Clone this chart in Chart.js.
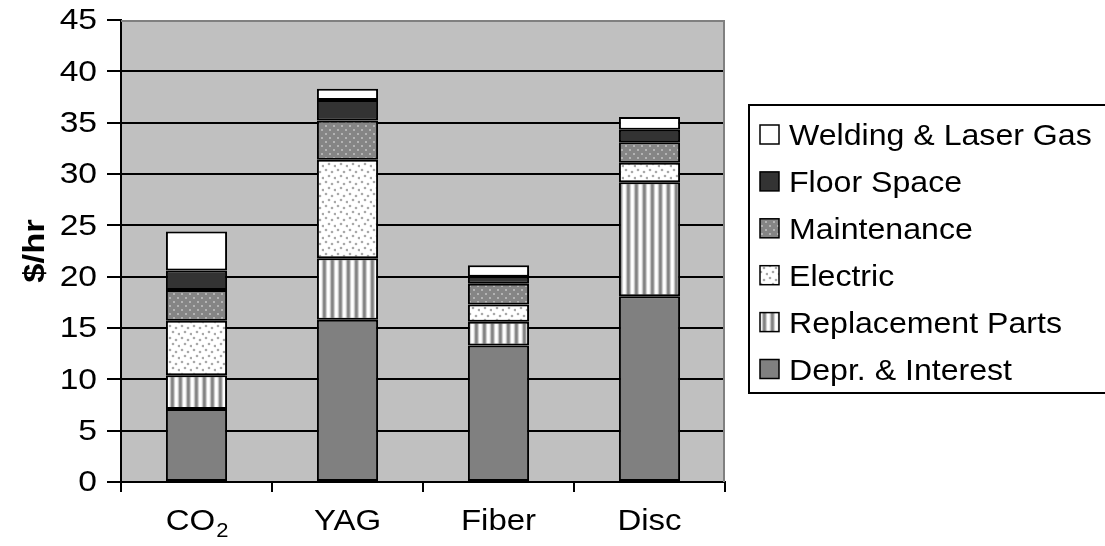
<!DOCTYPE html>
<html>
<head>
<meta charset="utf-8">
<style>
  html, body { margin: 0; padding: 0; background: #fff; }
  #wrap { width: 1105px; height: 546px; position: relative; }
</style>
<script src="https://cdn.jsdelivr.net/npm/chart.js@4.4.0/dist/chart.umd.min.js"></script>
</head>
<body>
<div id="wrap"><canvas id="c" width="1105" height="546"></canvas></div>
<script>
// Laser types on the x axis
const categories = ['CO2', 'YAG', 'Fiber', 'Disc'];

// Hourly operating cost components ($/hr), stacked bottom to top
const deprInterest     = [7.1, 15.8, 13.3, 18.1];
const replacementParts = [3.3, 6.0, 2.3, 11.1];
const electric         = [5.3, 9.6, 1.7, 1.9];
const maintenance      = [3.0, 3.8, 2.0, 2.0];
const floorSpace       = [1.9, 2.0, 0.7, 1.2];
const weldingGas       = [3.8, 1.1, 1.1, 1.25];

const seriesNames = ['Depr. & Interest', 'Replacement Parts', 'Electric',
                     'Maintenance', 'Floor Space', 'Welding & Laser Gas'];

// Y axis range
const yMin = 0, yMax = 45, yStep = 5;
const yTitle = '$/hr';

const FONT = '"Liberation Sans", Arial, Helvetica, sans-serif';
const FS = 30;

// text drawn slightly widened, as in the printed figure
function wideText(ctx, text, x, y, opts) {
  ctx.save();
  ctx.translate(x, y);
  if (opts.rotate) ctx.rotate(opts.rotate);
  ctx.scale(opts.sx || 1, 1);
  ctx.font = opts.font;
  ctx.textAlign = opts.align || 'left';
  ctx.textBaseline = opts.baseline || 'alphabetic';
  ctx.fillStyle = '#000';
  ctx.fillText(text, 0, 0);
  ctx.restore();
}

// ---- fill patterns ----
function makeTile(w, h, paint) {
  const c = document.createElement('canvas');
  c.width = w; c.height = h;
  const g = c.getContext('2d');
  paint(g);
  return document.createElement('canvas').getContext('2d').createPattern(c, 'repeat');
}
const solidGray = '#808080';
const stripes = makeTile(8, 8, g => {
  const cols = ['#ffffff', '#f0f0f0', '#c4c4c4', '#8c8c8c', '#828282', '#9a9a9a', '#d0d0d0', '#fafafa'];
  cols.forEach((col, i) => { g.fillStyle = col; g.fillRect(i, 0, 1, 8); });
});
const lightDots = makeTile(12, 12, g => {
  g.fillStyle = '#ffffff'; g.fillRect(0, 0, 12, 12);
  g.fillStyle = 'rgba(140,140,140,0.75)';
  [[2, 2], [8, 4], [5, 8], [11, 10]].forEach(([x, y]) => {
    g.beginPath(); g.arc(x, y, 1.3, 0, Math.PI * 2); g.fill();
  });
});
const grayDots = makeTile(8, 8, g => {
  g.fillStyle = '#858585'; g.fillRect(0, 0, 8, 8);
  g.fillStyle = 'rgba(200,200,200,0.85)';
  [[2, 2], [6, 6]].forEach(([x, y]) => {
    g.beginPath(); g.arc(x, y, 1.1, 0, Math.PI * 2); g.fill();
  });
});
const fills = [solidGray, stripes, lightDots, grayDots, '#333333', '#ffffff'];
const seriesValues = [deprInterest, replacementParts, electric, maintenance, floorSpace, weldingGas];

const datasets = seriesValues.map((vals, i) => ({
  label: seriesNames[i],
  data: vals,
  backgroundColor: fills[i],
  borderColor: '#000',
  borderWidth: 2,
  borderSkipped: false,
  categoryPercentage: 1.0,
  barPercentage: 0.405
}));

// plot background and its grey top/right frame
const plotFrame = {
  id: 'plotFrame',
  beforeDraw(chart) {
    const { ctx, chartArea: a } = chart;
    ctx.save();
    ctx.fillStyle = '#c0c0c0';
    ctx.fillRect(a.left, a.top, a.right - a.left, a.bottom - a.top);
    ctx.restore();
  },
  beforeDatasetsDraw(chart) {
    const { ctx, chartArea: a } = chart;
    ctx.save();
    ctx.strokeStyle = '#808080';
    ctx.lineWidth = 2;
    ctx.beginPath();
    ctx.moveTo(a.left, a.top + 1);
    ctx.lineTo(a.right - 1, a.top + 1);
    ctx.lineTo(a.right - 1, a.bottom);
    ctx.stroke();
    ctx.restore();
  }
};

// axis texts: value labels, axis title, category labels (with subscript)
const axisText = {
  id: 'axisText',
  afterDraw(chart) {
    const { ctx } = chart;
    const ys = chart.scales.y, xs = chart.scales.x;
    const f = FS + 'px ' + FONT;
    ys.ticks.forEach(t => {
      wideText(ctx, String(t.value), 97, ys.getPixelForValue(t.value) + 1,
               { font: f, align: 'right', baseline: 'middle', sx: 1.12 });
    });
    wideText(ctx, yTitle, 36, (ys.top + ys.bottom) / 2,
             { font: 'bold ' + f, align: 'center', baseline: 'middle', sx: 1.15, rotate: -Math.PI / 2 });
    const base = 530;
    categories.forEach((lab, i) => {
      const cx = xs.getPixelForValue(i);
      const m = lab.match(/^([A-Za-z]+)(\d+)$/);
      const sx = 1.1;
      if (m) {
        const sub = Math.round(FS * 0.68) + 'px ' + FONT;
        ctx.save();
        ctx.font = f; const w1 = ctx.measureText(m[1]).width * sx;
        ctx.font = sub; const w2 = ctx.measureText(m[2]).width * sx;
        ctx.restore();
        const x0 = cx - (w1 + w2) / 2;
        wideText(ctx, m[1], x0, base, { font: f, sx });
        wideText(ctx, m[2], x0 + w1 + 1, base + 7, { font: sub, sx });
      } else {
        wideText(ctx, lab, cx, base, { font: f, align: 'center', sx });
      }
    });
  }
};

// boxed legend, top series first
const boxLegend = {
  id: 'boxLegend',
  afterDraw(chart) {
    const { ctx } = chart;
    const ds = chart.data.datasets;
    ctx.save();
    ctx.strokeStyle = '#000';
    ctx.lineWidth = 2;
    ctx.strokeRect(749, 105, 420, 288);
    for (let k = 0; k < ds.length; k++) {
      const d = ds[ds.length - 1 - k];
      const base = 145 + k * 46.9;
      ctx.fillStyle = d.backgroundColor;
      ctx.fillRect(760, base - 20, 19, 19);
      ctx.lineWidth = 1.5;
      ctx.strokeRect(760, base - 20, 19, 19);
      wideText(ctx, d.label, 789, base, { font: FS + 'px ' + FONT, sx: 1.07 });
    }
    ctx.restore();
  }
};

new Chart(document.getElementById('c'), {
  type: 'bar',
  data: { labels: categories, datasets },
  plugins: [plotFrame, axisText, boxLegend],
  options: {
    responsive: false,
    animation: false,
    devicePixelRatio: 1,
    layout: { padding: { left: 0, top: 20, right: 380, bottom: 0 } },
    plugins: { legend: { display: false }, tooltip: { enabled: false } },
    scales: {
      x: {
        stacked: true,
        offset: true,
        grid: { offset: true, drawOnChartArea: false, drawTicks: true, tickLength: 10, color: '#000', lineWidth: 2 },
        border: { display: true, color: '#000', width: 2 },
        ticks: { display: true, color: 'rgba(0,0,0,0)', font: { size: 2 } },
        afterFit(s) { s.height = 64; }
      },
      y: {
        stacked: true,
        min: yMin,
        max: yMax,
        ticks: { stepSize: yStep, color: 'rgba(0,0,0,0)', padding: 0, font: { size: 2 } },
        grid: {
          drawTicks: true,
          tickLength: 14,
          lineWidth: 2,
          color: c => (c.tick && c.tick.value === yMax) ? 'rgba(0,0,0,0)' : '#000',
          tickColor: '#000'
        },
        border: { display: true, color: '#000', width: 2 },
        title: { display: false },
        afterFit(s) { s.width = 121; }
      }
    }
  }
});
</script>
</body>
</html>
